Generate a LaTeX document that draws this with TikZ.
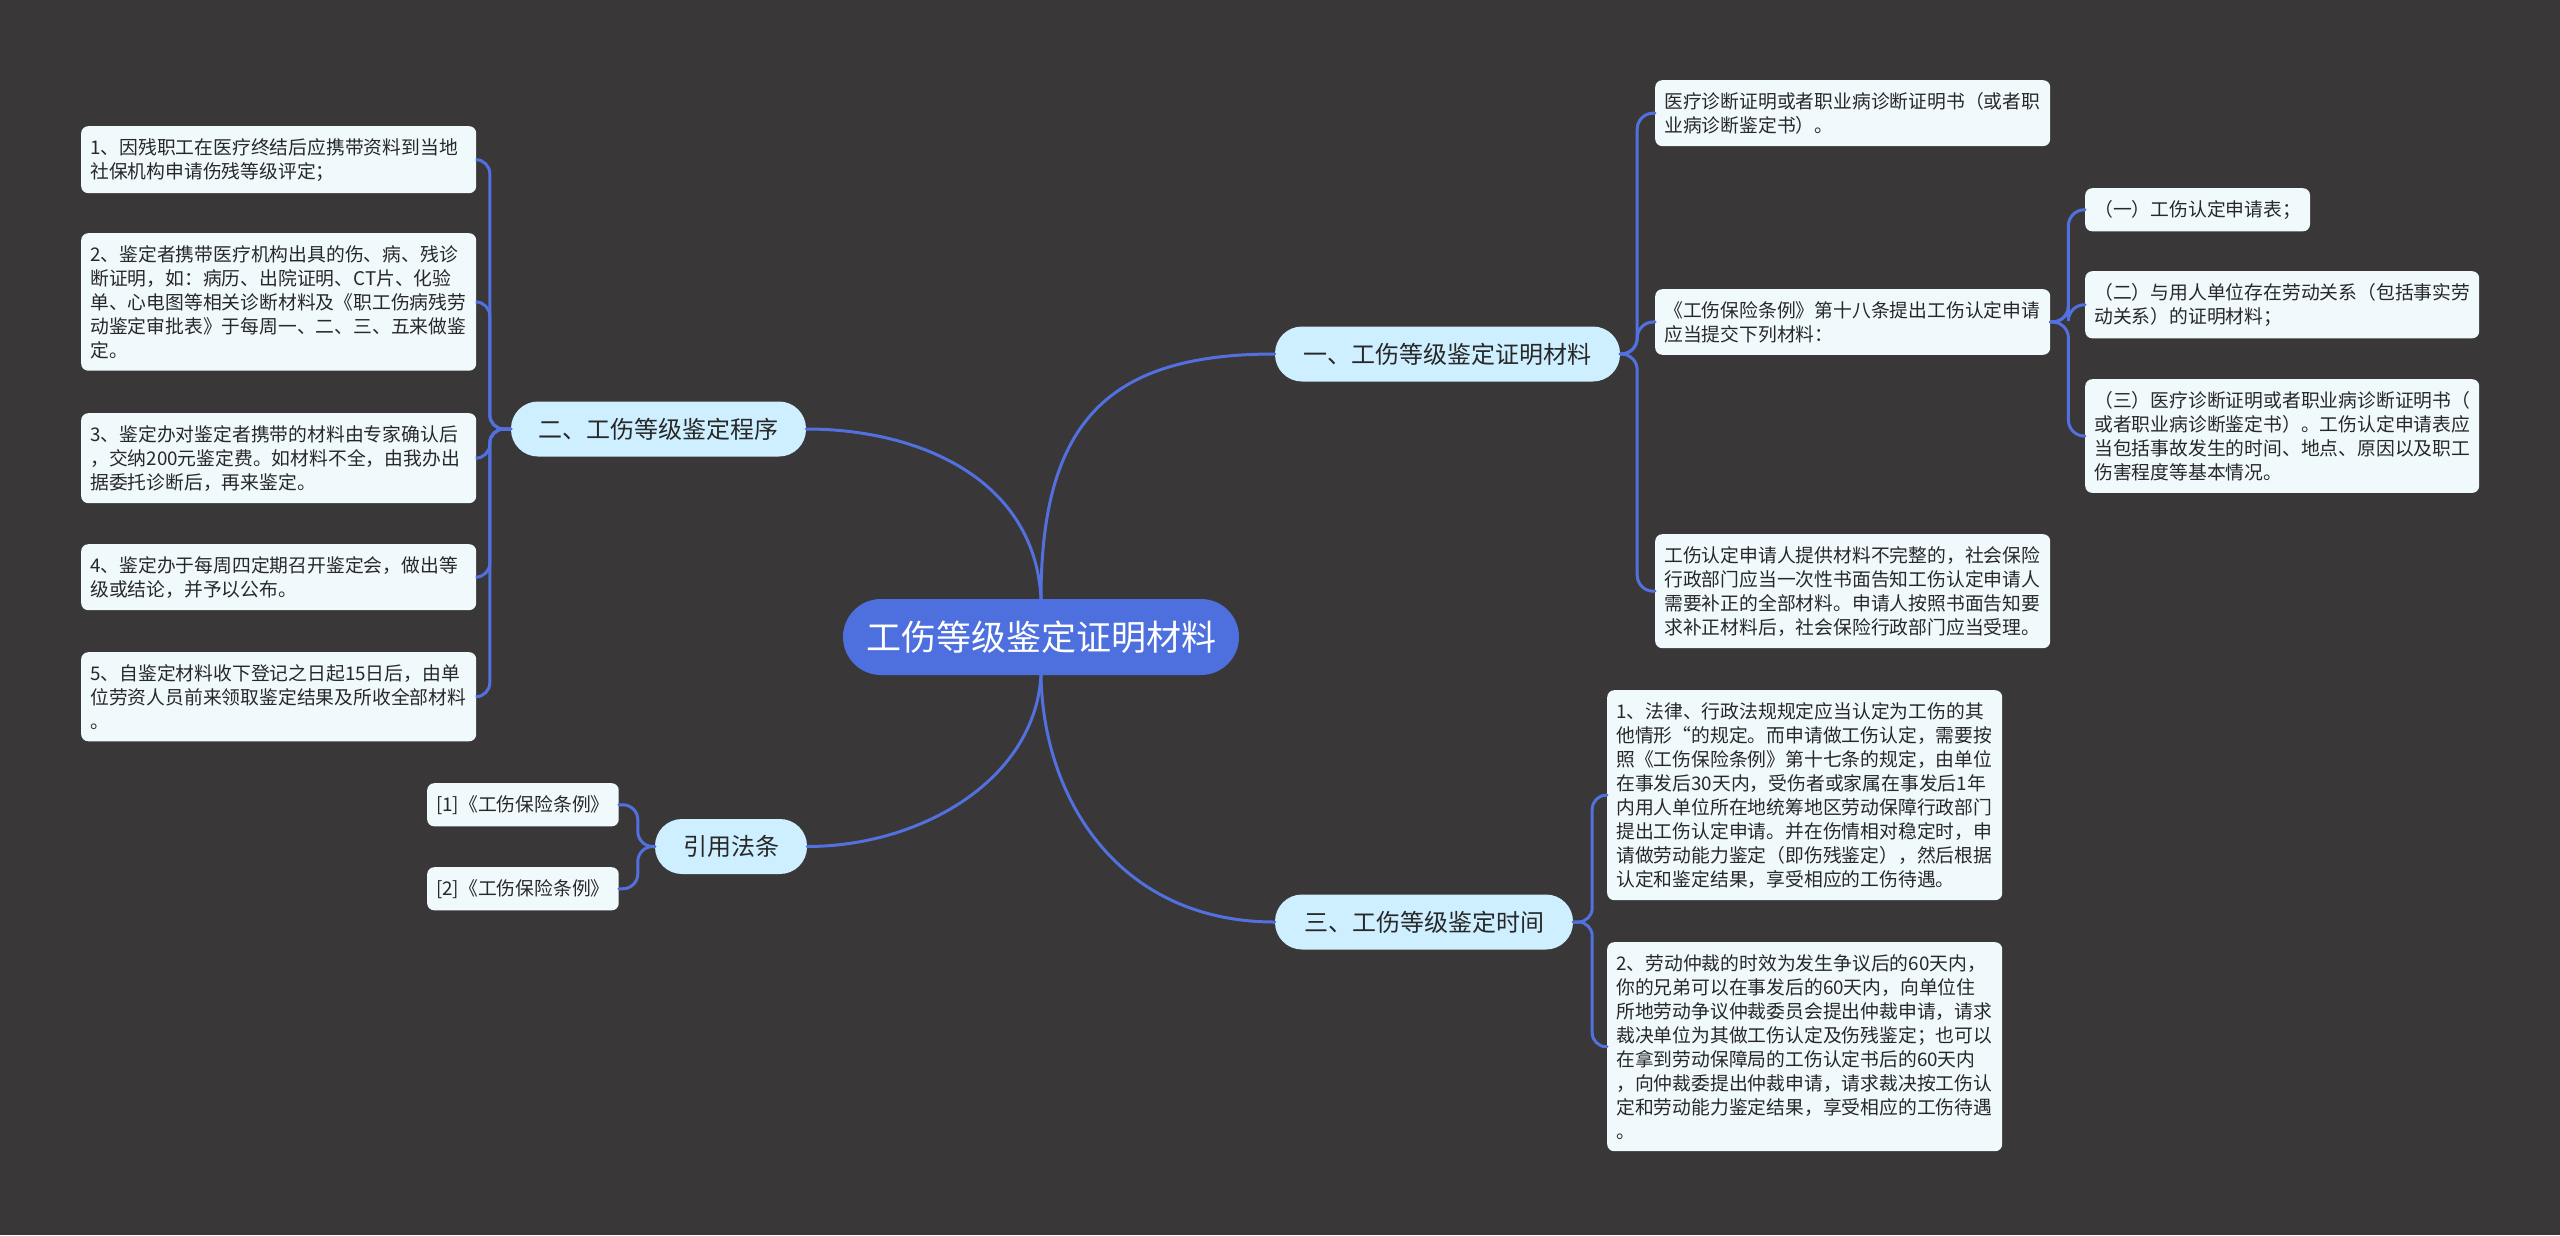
\documentclass[tikz,border=0pt]{standalone}
\usepackage{fontspec}
\setmainfont{Noto Sans CJK SC}
\definecolor{bgc}{RGB}{57,55,56}
\definecolor{mainc}{RGB}{78,112,222}
\definecolor{linec}{RGB}{82,112,222}
\definecolor{branchc}{RGB}{206,239,255}
\definecolor{leafc}{RGB}{240,250,253}
\definecolor{textc}{RGB}{40,40,40}
\begin{document}
\begin{tikzpicture}[x=1pt,y=-1pt,
  mainnode/.style={fill=mainc, text=white, rounded corners=38, minimum width=396, minimum height=76, inner sep=0, font=\fontsize{35}{40}\selectfont},
  branch/.style={fill=branchc, text=textc, rounded corners=27, minimum height=55, inner sep=0, font=\fontsize{24}{28}\selectfont},
  leaf/.style={fill=leafc, text=textc, rounded corners=7, align=left, inner xsep=9, inner ysep=12, anchor=north west, font=\fontsize{18.8}{24}\selectfont},
  wide/.style={text width=377},
  conn/.style={draw=linec, line width=3, line cap=round}]
\useasboundingbox (0,0) rectangle (2560,1235);
\fill[bgc] (0,0) rectangle (2560,1235);

% main and branches
\node[mainnode] (main) at (1041,637) {工伤等级鉴定证明材料};
\node[branch, minimum width=345] (b1) at (1447.5,354) {一、工伤等级鉴定证明材料};
\node[branch, minimum width=295] (b2) at (658.5,429) {二、工伤等级鉴定程序};
\node[branch, minimum width=298] (b3) at (1424,922) {三、工伤等级鉴定时间};
\node[branch, minimum width=152] (b4) at (731,846.5) {引用法条};

% left leaves
\node[leaf, wide] (L1) at (81,126) {1、因残职工在医疗终结后应携带资料到当地\\社保机构申请伤残等级评定；};
\node[leaf, wide] (L2) at (81,233) {2、鉴定者携带医疗机构出具的伤、病、残诊\\断证明，如：病历、出院证明、CT片、化验\\单、心电图等相关诊断材料及《职工伤病残劳\\动鉴定审批表》于每周一、二、三、五来做鉴\\定。};
\node[leaf, wide] (L3) at (81,413) {3、鉴定办对鉴定者携带的材料由专家确认后\\，交纳200元鉴定费。如材料不全，由我办出\\据委托诊断后，再来鉴定。};
\node[leaf, wide] (L4) at (81,544) {4、鉴定办于每周四定期召开鉴定会，做出等\\级或结论，并予以公布。};
\node[leaf, wide] (L5) at (81,652) {5、自鉴定材料收下登记之日起15日后，由单\\位劳资人员前来领取鉴定结果及所收全部材料\\。};

% citations
\node[leaf] (C1) at (427,783) {[1]《工伤保险条例》};
\node[leaf] (C2) at (427,867) {[2]《工伤保险条例》};

% right leaves of b1
\node[leaf, wide] (R1) at (1655,80) {医疗诊断证明或者职业病诊断证明书（或者职\\业病诊断鉴定书）。};
\node[leaf, wide] (R2) at (1655,289) {《工伤保险条例》第十八条提出工伤认定申请\\应当提交下列材料：};
\node[leaf, wide] (R3) at (1655,534) {工伤认定申请人提供材料不完整的，社会保险\\行政部门应当一次性书面告知工伤认定申请人\\需要补正的全部材料。申请人按照书面告知要\\求补正材料后，社会保险行政部门应当受理。};

% sub leaves of R2
\node[leaf] (S1) at (2085,188) {（一）工伤认定申请表；};
\node[leaf, text width=376] (S2) at (2085,271) {（二）与用人单位存在劳动关系（包括事实劳\\动关系）的证明材料；};
\node[leaf, text width=376] (S3) at (2085,379) {（三）医疗诊断证明或者职业病诊断证明书（\\或者职业病诊断鉴定书）。工伤认定申请表应\\当包括事故发生的时间、地点、原因以及职工\\伤害程度等基本情况。};

% leaves of b3
\node[leaf, wide] (T1) at (1607,690) {1、法律、行政法规规定应当认定为工伤的其\\他情形“的规定。而申请做工伤认定，需要按\\照《工伤保险条例》第十七条的规定，由单位\\在事发后30天内，受伤者或家属在事发后1年\\内用人单位所在地统筹地区劳动保障行政部门\\提出工伤认定申请。并在伤情相对稳定时，申\\请做劳动能力鉴定（即伤残鉴定），然后根据\\认定和鉴定结果，享受相应的工伤待遇。};
\node[leaf, wide] (T2) at (1607,942) {2、劳动仲裁的时效为发生争议后的60天内，\\你的兄弟可以在事发后的60天内，向单位住\\所地劳动争议仲裁委员会提出仲裁申请，请求\\裁决单位为其做工伤认定及伤残鉴定；也可以\\在拿到劳动保障局的工伤认定书后的60天内\\，向仲裁委提出仲裁申请，请求裁决按工伤认\\定和劳动能力鉴定结果，享受相应的工伤待遇\\。};

% connectors from main
\draw[conn] (main.north) .. controls +(0,-179) and +(-165,0) .. (b1.west);
\draw[conn] (main.north) .. controls +(-6,-119) and +(114,0) .. (b2.east);
\draw[conn] (main.south) .. controls +(2,125) and +(-155,0) .. (b3.west);
\draw[conn] (main.south) .. controls +(-6,105) and +(113,0) .. (b4.east);

% b2 -> L
\foreach \n in {L1,L2,L3,L4,L5}
  \draw[conn, rounded corners=14] (b2.west) -- ++(-21,0) |- (\n.east);
% b4 -> C
\foreach \n in {C1,C2}
  \draw[conn, rounded corners=15] (b4.west) -- ++(-17,0) |- (\n.east);
% b1 -> R
\foreach \n in {R1,R2,R3}
  \draw[conn, rounded corners=16] (b1.east) -- ++(17,0) |- (\n.west);
% R2 -> S
\foreach \n in {S1,S2,S3}
  \draw[conn, rounded corners=16] (R2.east) -- ++(18,0) |- (\n.west);
% b3 -> T
\foreach \n in {T1,T2}
  \draw[conn, rounded corners=14] (b3.east) -- ++(19,0) |- (\n.west);
\end{tikzpicture}
\end{document}
